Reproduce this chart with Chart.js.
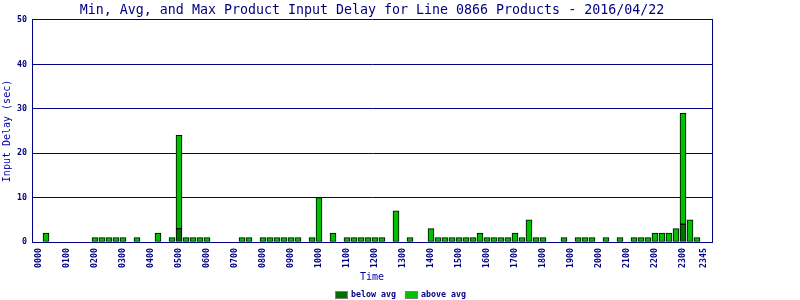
<!DOCTYPE html>
<html><head><meta charset="utf-8">
<script src="https://cdn.jsdelivr.net/npm/chart.js@4.4.1/dist/chart.umd.min.js"></script>
<style>html,body{margin:0;padding:0;background:#fff;}canvas{display:block;}</style>
</head><body>
<canvas id="c" width="800" height="300"></canvas>
<script>
const chartTitle = "Min, Avg, and Max Product Input Delay for Line 0866 Products - 2016/04/22";
const yAxisTitle = "Input Delay (sec)";
const xAxisTitle = "Time";
const seriesNames = ["below avg", "above avg"];

const times = [
  "0000","0015","0030","0045","0100","0115","0130","0145",
  "0200","0215","0230","0245","0300","0315","0330","0345",
  "0400","0415","0430","0445","0500","0515","0530","0545",
  "0600","0615","0630","0645","0700","0715","0730","0745",
  "0800","0815","0830","0845","0900","0915","0930","0945",
  "1000","1015","1030","1045","1100","1115","1130","1145",
  "1200","1215","1230","1245","1300","1315","1330","1345",
  "1400","1415","1430","1445","1500","1515","1530","1545",
  "1600","1615","1630","1645","1700","1715","1730","1745",
  "1800","1815","1830","1845","1900","1915","1930","1945",
  "2000","2015","2030","2045","2100","2115","2130","2145",
  "2200","2215","2230","2245","2300","2315","2330","2345"
];

const belowAvg = [
  0,0,0,0,0,0,0,0,
  0,0,0,0,0,0,0,0,
  0,0,0,0,3,0,0,0,
  0,0,0,0,0,0,0,0,
  0,0,0,0,0,0,0,0,
  0,0,0,0,0,0,0,0,
  0,0,0,0,0,0,0,0,
  0,0,0,0,0,0,0,0,
  0,0,0,0,0,0,0,0,
  0,0,0,0,0,0,0,0,
  0,0,0,0,0,0,0,0,
  0,0,0,0,4,0,0,0
];

const aboveAvg = [
  0,2,0,0,0,0,0,0,
  1,1,1,1,1,0,1,0,
  0,2,0,1,21,1,1,1,
  1,0,0,0,0,1,1,0,
  1,1,1,1,1,1,0,1,
  10,0,2,0,1,1,1,1,
  1,1,0,7,0,1,0,0,
  3,1,1,1,1,1,1,2,
  1,1,1,1,2,1,5,1,
  1,0,0,1,0,1,1,1,
  0,1,0,1,0,1,1,1,
  2,2,2,3,25,5,1,0
];

const xTickLabels = ["0000","0100","0200","0300","0400","0500","0600","0700","0800","0900","1000","1100",
  "1200","1300","1400","1500","1600","1700","1800","1900","2000","2100","2200","2300","2345"];
const yTickValues = [0,10,20,30,40,50];

const NAVY = "#000080";
const BLUE = "#0000aa";
const MONO = '"DejaVu Sans Mono", "Liberation Mono", monospace';

const toPoints = arr => arr.map((v, i) => ({x: i, y: v === 0 ? null : v}));

const legendPlugin = {
  id: 'bottomLegend',
  afterDraw(chart) {
    const ctx = chart.ctx;
    const ds = chart.data.datasets;
    ctx.save();
    ctx.font = 'bold 8.3px ' + MONO;
    const boxW = 13, boxH = 8, gapText = 3, gapItem = 9;
    const widths = ds.map(d => boxW + gapText + ctx.measureText(d.label).width);
    const total = widths.reduce((a, b) => a + b, 0) + gapItem * (ds.length - 1);
    let x = Math.round(chart.width / 2 - total / 2);
    const top = 291;
    ds.forEach((d, i) => {
      ctx.fillStyle = d.backgroundColor;
      ctx.fillRect(x, top, boxW, boxH);
      ctx.strokeStyle = "#808080";
      ctx.lineWidth = 1;
      ctx.strokeRect(x + 0.5, top + 0.5, boxW - 1, boxH - 1);
      ctx.fillStyle = NAVY;
      ctx.textBaseline = 'middle';
      ctx.textAlign = 'left';
      ctx.fillText(d.label, x + boxW + gapText, top + boxH / 2);
      x += widths[i] + gapItem;
    });
    ctx.restore();
  }
};

new Chart(document.getElementById('c'), {
  type: 'bar',
  data: {
    datasets: [
      {label: seriesNames[0], data: toPoints(belowAvg), backgroundColor: "#007000",
       borderColor: "#000000", borderWidth: 1, borderSkipped: false, barThickness: 6},
      {label: seriesNames[1], data: toPoints(aboveAvg), backgroundColor: "#00c000",
       borderColor: "#000000", borderWidth: 1, borderSkipped: false, barThickness: 6}
    ]
  },
  plugins: [legendPlugin],
  options: {
    responsive: false,
    animation: false,
    devicePixelRatio: 1,
    layout: {padding: {left: 0, right: 88, top: 0, bottom: 16}},
    plugins: {
      legend: {display: false},
      tooltip: {enabled: false},
      title: {
        display: true, text: chartTitle, color: NAVY, fullSize: false,
        font: {family: MONO, size: 13.3, weight: 'normal'},
        padding: {top: 3, bottom: 1}
      }
    },
    scales: {
      x: {
        type: 'linear', stacked: true, offset: false,
        min: -1, max: -1 + 680 / 7,
        afterBuildTicks: s => { s.ticks = xTickLabels.map(t => ({value: times.indexOf(t)})); },
        afterFit: s => { s.height = 42; },
        grid: {display: false, drawTicks: false},
        border: {display: true, color: NAVY, width: 1},
        ticks: {
          autoSkip: false, maxRotation: 90, minRotation: 90, padding: 6,
          color: NAVY, font: {family: MONO, size: 8.3, weight: 'bold'},
          callback: v => times[v]
        },
        title: {display: true, text: xAxisTitle, color: BLUE,
          font: {family: MONO, size: 10}, padding: {top: 0, bottom: 0.5}}
      },
      y: {
        stacked: true, min: 0, max: 50,
        afterBuildTicks: s => { s.ticks = yTickValues.map(v => ({value: v})); },
        afterFit: s => { s.width = 32; },
        grid: {color: NAVY, lineWidth: 1, drawTicks: false},
        border: {display: true, color: NAVY, width: 1},
        ticks: {padding: 5, color: NAVY, font: {family: MONO, size: 8.3, weight: 'bold'}},
        title: {display: true, text: yAxisTitle, color: BLUE,
          font: {family: MONO, size: 10}, padding: {top: 1, bottom: 0}}
      },
      yRight: {
        position: 'right', min: 0, max: 50,
        afterFit: s => { s.width = 0; },
        grid: {display: false, drawTicks: false},
        border: {display: true, color: NAVY, width: 1},
        ticks: {display: false}
      }
    }
  }
});
</script>
</body></html>
